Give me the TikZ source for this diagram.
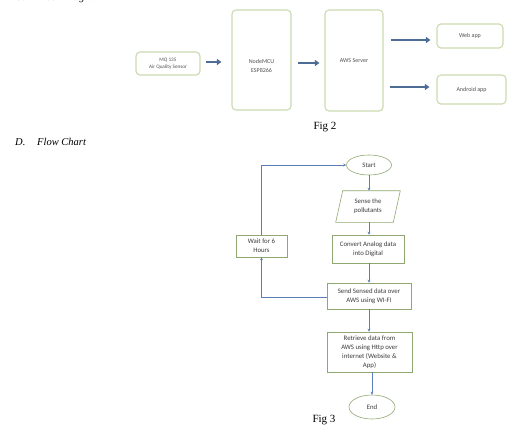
\documentclass[tikz,border=0pt]{standalone}
\usepackage{fontspec}
\setmainfont{Liberation Serif}
\newfontfamily\carl{Carlito}
\usetikzlibrary{arrows.meta,calc,shapes.geometric}
\definecolor{boxgreen}{HTML}{C9DAB0}
\definecolor{arrblue}{HTML}{4D6C96}
\definecolor{fgreen}{HTML}{8FA872}
\definecolor{fblue}{HTML}{5B7FB4}
\definecolor{txtgray}{HTML}{505050}
\definecolor{ftxt}{HTML}{3A3A3A}
\begin{document}
\begin{tikzpicture}[x=1pt,y=-1pt,
  blkbox/.style={draw=boxgreen,line width=1.1pt,rounded corners=4pt,
    font=\carl\fontsize{6}{7.5}\selectfont,text=txtgray,align=center,inner sep=0pt},
  blkarrow/.style={draw=arrblue,line width=2pt,-{Triangle[length=4.5pt,width=6pt]}},
  fbox/.style={draw=fgreen,line width=0.6pt,font=\carl\fontsize{6.8}{9}\selectfont,
    text=ftxt,align=center,inner sep=0pt},
  farrow/.style={draw=fblue,line width=0.6pt,-{Stealth[length=3pt,width=3pt]}},
  fline/.style={draw=fblue,line width=0.6pt},
  caption/.style={font=\fontsize{11}{13}\selectfont,text=black},
  heading/.style={font=\itshape\fontsize{10.5}{12}\selectfont,text=black,anchor=base west,inner sep=0pt}]
\useasboundingbox (0,0) rectangle (522,444);

% headings
\node[heading] (hc) at (15,0.5) {C.};
\node[heading] (hcb) at (37,0.5) {Block Diagram};
\node[heading] (hd) at (15,145) {D.};
\node[heading] (hdf) at (37,145) {Flow Chart};

% block diagram
\node[blkbox,minimum width=64,minimum height=23,font=\carl\fontsize{5.2}{7}\selectfont] (sensor) at (168,63.5) {MQ 135\\Air Quality Sensor};
\node[blkbox,minimum width=59,minimum height=100] (mcu) at (261.5,60) {};
\node[font=\carl\fontsize{6}{8.5}\selectfont,text=txtgray,align=center] (mcut) at (261.5,66) {NodeMCU\\ESP8266};
\node[blkbox,minimum width=58,minimum height=101] (aws) at (354,60.5) {};
\node[font=\carl\fontsize{6}{7.5}\selectfont,text=txtgray] (awst) at (354,61) {AWS Server};
\node[blkbox,minimum width=66,minimum height=24] (web) at (470,36) {Web app};
\node[blkbox,minimum width=69,minimum height=29] (android) at (471.5,89.5) {Android app};

\draw[blkarrow,shorten <=5pt,shorten >=10pt] ([yshift=1.5pt]sensor.east) -- ([yshift=1.5pt]sensor.east -| mcu.west);
\draw[blkarrow,shorten <=6pt,shorten >=5pt] ([yshift=-3pt]mcu.east) -- ([yshift=-3pt]mcu.east -| aws.west);
\draw[blkarrow,shorten <=7pt,shorten >=6pt] ([yshift=-4pt]web.west -| aws.east) -- ([yshift=-4pt]web.west);
\draw[blkarrow,shorten <=6pt,shorten >=7pt] ([yshift=2.5pt]android.west -| aws.east) -- ([yshift=2.5pt]android.west);

\node[caption] (fig2) at (325,127) {Fig 2};

% flow chart
\node[fbox,ellipse,minimum width=45,minimum height=20] (start) at (369,165) {Start};
\node[fbox,draw=none,minimum width=57,minimum height=31] (sense) at (368,206.5) {Sense the\\pollutants};
\draw[fgreen,line width=0.6pt] ([xshift=3.5pt]sense.north west) -- ([xshift=3.5pt]sense.north east)
  -- ([xshift=-3.5pt]sense.south east) -- ([xshift=-3.5pt]sense.south west) -- cycle;
\node[fbox,minimum width=72,minimum height=28] (convert) at (368,249) {Convert Analog data\\into Digital};
\node[fbox,minimum width=84,minimum height=26] (send) at (369,296) {Send Sensed data over\\AWS using WI-FI};
\node[fbox,minimum width=85,minimum height=40] (retrieve) at (369.5,352) {Retrieve data from\\AWS using Http over\\internet (Website \&\\App)};
\node[fbox,ellipse,minimum width=46,minimum height=24] (end) at (372,407) {End};
\node[fbox,minimum width=51,minimum height=22] (wait) at (261.5,246) {Wait for 6\\Hours};

\draw[farrow] (start.south) -- (start.south |- sense.north);
\draw[farrow] (sense.south -| start.south) -- (start.south |- convert.north);
\draw[farrow] (convert.south -| start.south) -- (start.south |- send.north);
\draw[farrow] (send.south) -- (send.south |- retrieve.north);
\draw[farrow] (end.north |- retrieve.south) -- (end.north);
\draw[farrow] ([yshift=-1pt]send.west) -| (wait.south);
\draw[farrow] (wait.north) |- (start.west);

\node[caption] (fig3) at (324,420) {Fig 3};
\end{tikzpicture}
\end{document}
